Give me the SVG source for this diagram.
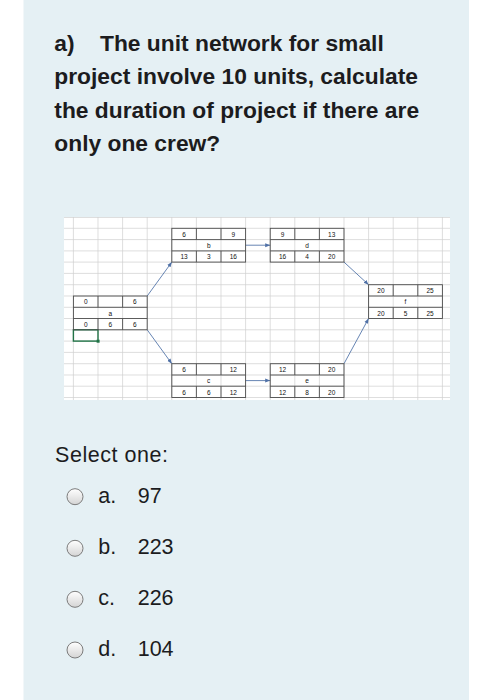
<svg xmlns="http://www.w3.org/2000/svg" width="493" height="700" viewBox="0 0 493 700">
<style>
.title{font-family:"Liberation Sans",Arial,sans-serif;font-weight:bold;font-size:22.8px;fill:#1c1c1e}
.body{font-family:"Liberation Sans",Arial,sans-serif;font-size:21.5px;fill:#1c1c1e}
.cell{font-family:"Liberation Sans",Arial,sans-serif;font-size:6.5px;fill:#111;text-anchor:middle}
.grid{stroke:#d0d0d0;stroke-width:0.7;fill:none}
.box{fill:none;stroke:#4d4d4d;stroke-width:0.9}
.conn{stroke:#5677aa;stroke-width:0.9;fill:none;marker-end:url(#ah)}
.radio{fill:url(#rg);stroke:#7c7c7c;stroke-width:1}
</style>
<defs>
<marker id="ah" markerWidth="6" markerHeight="6" refX="5" refY="3" orient="auto" markerUnits="userSpaceOnUse">
<path d="M0,1 L5,3 L0,5 z" fill="#4f70a6"/>
</marker>
<linearGradient id="rg" x1="0" y1="0" x2="0" y2="1">
<stop offset="0" stop-color="#ffffff"/>
<stop offset="1" stop-color="#d4d4d4"/>
</linearGradient>
</defs>
<rect x="0" y="0" width="493" height="700" fill="#ffffff"/>
<rect x="23.5" y="0" width="445.5" height="700" fill="#e5f0f4"/>

<text class="title" x="54.3" y="50.7">a)</text>
<text class="title" x="100" y="50.7">The unit network for small</text>
<text class="title" x="54.3" y="84.2">project involve 10 units, calculate</text>
<text class="title" x="54.3" y="117.7">the duration of project if there are</text>
<text class="title" x="54.3" y="151.2">only one crew?</text>

<g id="sheet">
<rect x="64" y="217" width="386" height="183" fill="#ffffff"/>
<path class="grid" d="M73.4,217V400M98,217V400M122.6,217V400M147.2,217V400M171.8,217V400M196.4,217V400M221,217V400M245.6,217V400M270.2,217V400M294.8,217V400M319.4,217V400M344,217V400M368.6,217V400M393.2,217V400M417.8,217V400M442.4,217V400"/>
<path class="grid" d="M64,217.5H450M64,228.3H450M64,239.6H450M64,250.9H450M64,262.1H450M64,273.4H450M64,284.7H450M64,296H450M64,307.3H450M64,318.5H450M64,329.8H450M64,341.1H450M64,352.4H450M64,363.7H450M64,375H450M64,386.2H450M64,397.5H450"/>
<rect x="73.4" y="329.8" width="24.6" height="11.3" fill="none" stroke="#217346" stroke-width="1.4"/>
<rect x="96.6" y="339.7" width="3" height="3" fill="#217346"/>
</g>

<g id="connectors">
<line class="conn" x1="147.2" y1="296" x2="171.8" y2="262.1"/>
<line class="conn" x1="147.2" y1="329.8" x2="171.8" y2="363.7"/>
<line class="conn" x1="245.6" y1="245.2" x2="270.2" y2="245.2"/>
<line class="conn" x1="245.6" y1="380.6" x2="270.2" y2="380.6"/>
<line class="conn" x1="344" y1="262.1" x2="368.6" y2="284.7"/>
<line class="conn" x1="344" y1="363.7" x2="368.6" y2="318.5"/>
</g>

<g id="node-a">
<rect class="box" x="73.4" y="296" width="73.8" height="33.8"/>
<path class="box" d="M73.4,307.3H147.2M73.4,318.5H147.2M98,296V307.3M122.6,296V307.3M98,318.5V329.8M122.6,318.5V329.8"/>
<text class="cell" x="85.7" y="304.3">0</text><text class="cell" x="134.9" y="304.3">6</text>
<text class="cell" x="110.3" y="315.6">a</text>
<text class="cell" x="85.7" y="326.8">0</text><text class="cell" x="110.3" y="326.8">6</text><text class="cell" x="134.9" y="326.8">6</text>
</g>

<g id="node-b">
<rect class="box" x="171.8" y="228.3" width="73.8" height="33.8"/>
<path class="box" d="M171.8,239.6H245.6M171.8,250.9H245.6M196.4,228.3V239.6M221,228.3V239.6M196.4,250.9V262.1M221,250.9V262.1"/>
<text class="cell" x="184.1" y="236.6">6</text><text class="cell" x="233.3" y="236.6">9</text>
<text class="cell" x="208.7" y="247.9">b</text>
<text class="cell" x="184.1" y="259.2">13</text><text class="cell" x="208.7" y="259.2">3</text><text class="cell" x="233.3" y="259.2">16</text>
</g>

<g id="node-c">
<rect class="box" x="171.8" y="363.7" width="73.8" height="33.8"/>
<path class="box" d="M171.8,375H245.6M171.8,386.2H245.6M196.4,363.7V375M221,363.7V375M196.4,386.2V397.5M221,386.2V397.5"/>
<text class="cell" x="184.1" y="372">6</text><text class="cell" x="233.3" y="372">12</text>
<text class="cell" x="208.7" y="383.3">c</text>
<text class="cell" x="184.1" y="394.5">6</text><text class="cell" x="208.7" y="394.5">6</text><text class="cell" x="233.3" y="394.5">12</text>
</g>

<g id="node-d">
<rect class="box" x="270.2" y="228.3" width="73.8" height="33.8"/>
<path class="box" d="M270.2,239.6H344M270.2,250.9H344M294.8,228.3V239.6M319.4,228.3V239.6M294.8,250.9V262.1M319.4,250.9V262.1"/>
<text class="cell" x="282.5" y="236.6">9</text><text class="cell" x="331.7" y="236.6">13</text>
<text class="cell" x="307.1" y="247.9">d</text>
<text class="cell" x="282.5" y="259.2">16</text><text class="cell" x="307.1" y="259.2">4</text><text class="cell" x="331.7" y="259.2">20</text>
</g>

<g id="node-e">
<rect class="box" x="270.2" y="363.7" width="73.8" height="33.8"/>
<path class="box" d="M270.2,375H344M270.2,386.2H344M294.8,363.7V375M319.4,363.7V375M294.8,386.2V397.5M319.4,386.2V397.5"/>
<text class="cell" x="282.5" y="372">12</text><text class="cell" x="331.7" y="372">20</text>
<text class="cell" x="307.1" y="383.3">e</text>
<text class="cell" x="282.5" y="394.5">12</text><text class="cell" x="307.1" y="394.5">8</text><text class="cell" x="331.7" y="394.5">20</text>
</g>

<g id="node-f">
<rect class="box" x="368.6" y="284.7" width="73.8" height="33.8"/>
<path class="box" d="M368.6,296H442.4M368.6,307.3H442.4M393.2,284.7V296M417.8,284.7V296M393.2,307.3V318.5M417.8,307.3V318.5"/>
<text class="cell" x="380.9" y="293">20</text><text class="cell" x="430.1" y="293">25</text>
<text class="cell" x="405.5" y="304.3">f</text>
<text class="cell" x="380.9" y="315.5">20</text><text class="cell" x="405.5" y="315.5">5</text><text class="cell" x="430.1" y="315.5">25</text>
</g>

<text class="body" x="55" y="462.3" textLength="113">Select one:</text>

<g id="option-a">
<circle class="radio" cx="75" cy="496.7" r="8"/>
<text class="body" x="98.3" y="502.7">a.</text>
<text class="body" x="137.7" y="502.7">97</text>
</g>
<g id="option-b">
<circle class="radio" cx="75" cy="548.3" r="8"/>
<text class="body" x="98.3" y="554.3">b.</text>
<text class="body" x="137.7" y="554.3">223</text>
</g>
<g id="option-c">
<circle class="radio" cx="75" cy="599.3" r="8"/>
<text class="body" x="98.3" y="605.3">c.</text>
<text class="body" x="137.7" y="605.3">226</text>
</g>
<g id="option-d">
<circle class="radio" cx="75" cy="650" r="8"/>
<text class="body" x="98.3" y="656">d.</text>
<text class="body" x="137.7" y="656">104</text>
</g>
</svg>
